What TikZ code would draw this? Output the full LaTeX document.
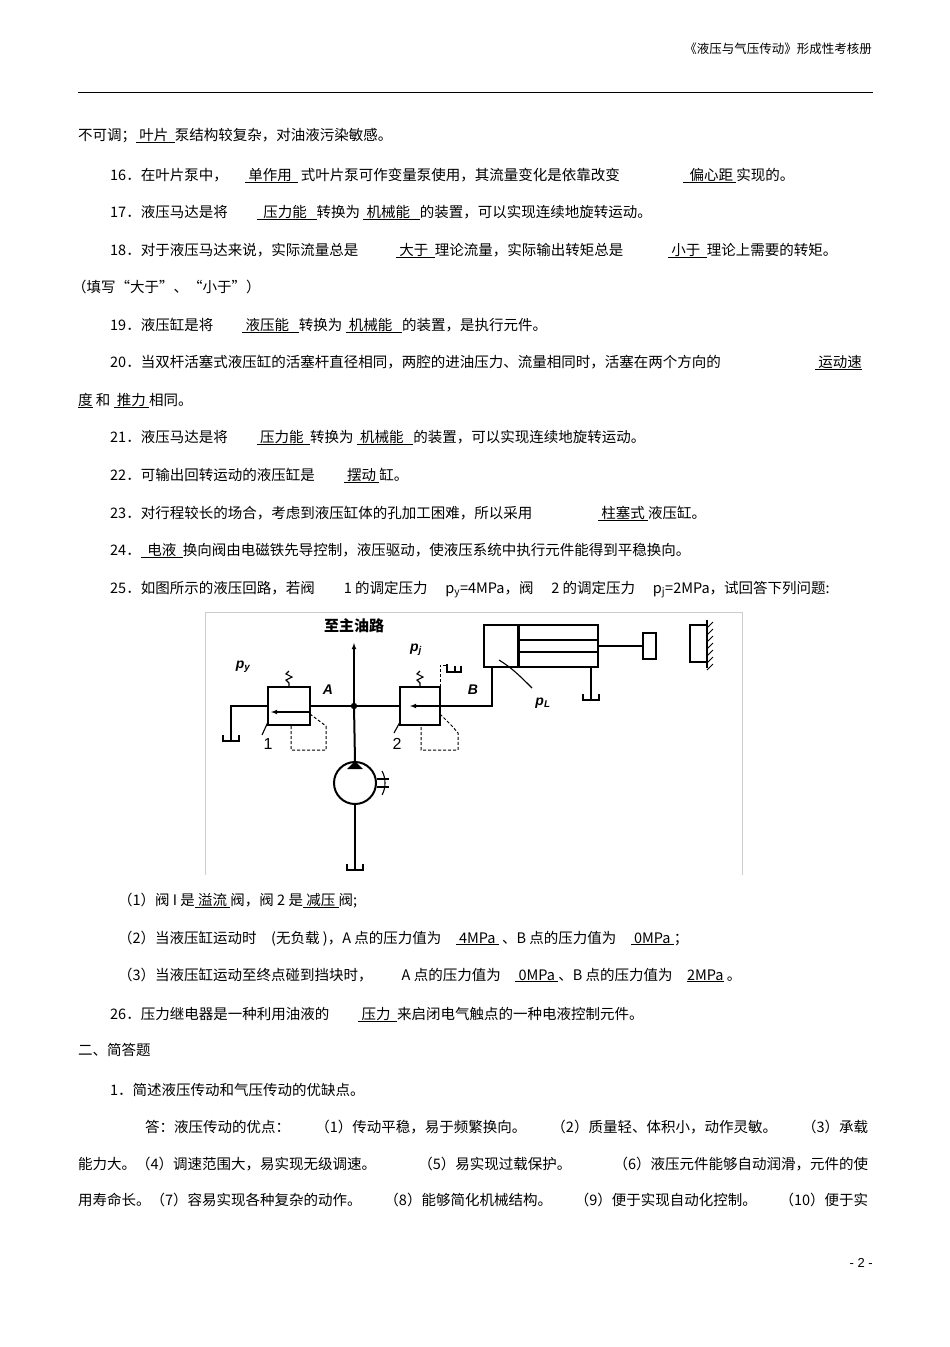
\documentclass[tikz,border=0pt]{standalone}
\usepackage{fontspec}
\setmainfont{Liberation Sans}
\newfontfamily\cjk{Noto Sans CJK SC}
\usetikzlibrary{patterns}
\newcommand\U[1]{\underline{#1}}
\begin{document}
\begin{tikzpicture}[x=1pt,y=-1pt,
 tx/.style={anchor=base west,inner sep=0pt,font=\cjk\fontsize{14.5}{16}\selectfont},
 fl/.style={font=\itshape\bfseries\fontsize{14}{15}\selectfont,inner sep=0pt},
 ln/.style={line width=1.1pt},
 th/.style={line width=2pt},
 dsh/.style={line width=1pt,dash pattern=on 3pt off 2pt}]
\useasboundingbox (0,0) rectangle (950,1347);
\fill[white] (0,0) rectangle (950,1347);
% header
\node[anchor=base east,inner sep=0pt,font=\cjk\fontsize{12.5}{14}\selectfont] (hd) at (872,53) {《液压与气压传动》形成性考核册};
\coordinate (r1) at (78,92); \coordinate (r2) at (873,92);
\draw[line width=0.8pt] (r1) -- (r2);
% text
\node[tx] (t1) at (78,140) {不可调；\U{\ 叶片\ \ }泵结构较复杂，对油液污染敏感。};
\node[tx] (t16a) at (110,180) {16．在叶片泵中，};
\node[tx] (t16b) at (245,180) {\U{\ 单作用\ \ }\,式叶片泵可作变量泵使用，其流量变化是依靠改变};
\node[tx] (t16c) at (683,180) {\U{\ \ 偏心距\ }实现的。};
\node[tx] (t17) at (110,217) {17．液压马达是将\qquad\U{\ \ 压力能\ \ \ }转换为\ \U{\ 机械能\ \ \ }的装置，可以实现连续地旋转运动。};
\node[tx] (t18a) at (110,255) {18．对于液压马达来说，实际流量总是};
\node[tx] (t18b) at (396,255) {\U{\ 大于\ \ }理论流量，实际输出转矩总是};
\node[tx] (t18c) at (668,255) {\U{\ 小于\ \ }理论上需要的转矩。};
\node[tx] (t18d) at (72,292) {（填写“大于”、“小于”）};
\node[tx] (t19) at (110,330) {19．液压缸是将\qquad\U{\ 液压能\ \ \ }转换为\ \U{\ 机械能\ \ \ }的装置，是执行元件。};
\node[tx] (t20a) at (110,367) {20．当双杆活塞式液压缸的活塞杆直径相同，两腔的进油压力、流量相同时，活塞在两个方向的};
\node[tx] (t20b) at (815,367) {\U{\ 运动速}};
\node[tx] (t20c) at (78,405) {\U{度}\ 和\ \U{\ 推力\ }相同。};
\node[tx] (t21) at (110,442) {21．液压马达是将\qquad\U{\ 压力能\ \ }转换为\ \U{\ 机械能\ \ \ }的装置，可以实现连续地旋转运动。};
\node[tx] (t22) at (110,480) {22．可输出回转运动的液压缸是\qquad\U{\ 摆动\ }缸。};
\node[tx] (t23a) at (110,518) {23．对行程较长的场合，考虑到液压缸体的孔加工困难，所以采用};
\node[tx] (t23b) at (598,518) {\U{\ 柱塞式\ }液压缸。};
\node[tx] (t24) at (110,555) {24．\U{\ \ 电液\ \ }换向阀由电磁铁先导控制，液压驱动，使液压系统中执行元件能得到平稳换向。};
\node[tx] (t25) at (110,593) {25．如图所示的液压回路，若阀\qquad 1 的调定压力\quad\ p\textsubscript{y}=4MPa，阀\quad\ 2 的调定压力\quad\ p\textsubscript{j}=2MPa，试回答下列问题:};
\node[tx] (q1) at (118,905) {（1）阀 I 是\U{\ 溢流\ }阀，阀 2 是\U{\ 减压\ }阀;};
\node[tx] (q2) at (118,943) {（2）当液压缸运动时\quad (无负载 )，A 点的压力值为\quad\U{\ 4MPa\ }\ 、B 点的压力值为\quad\U{\ 0MPa\ }；};
\node[tx] (q3) at (118,980) {（3）当液压缸运动至终点碰到挡块时，\qquad A 点的压力值为\quad\U{\ 0MPa\ }、B 点的压力值为\quad\U{2MPa}\ 。};
\node[tx] (t26) at (110,1019) {26．压力继电器是一种利用油液的\qquad\U{\ 压力\ \ }来启闭电气触点的一种电液控制元件。};
\node[tx] (s2) at (78,1055) {二、简答题};
\node[tx] (s21) at (110,1095) {1．简述液压传动和气压传动的优缺点。};
\node[tx] (a1) at (145,1132) {\makebox[723pt][s]{答：液压传动的优点： （1）传动平稳，易于频繁换向。 （2）质量轻、体积小，动作灵敏。 （3）承载}};
\node[tx] (a2) at (78,1169) {\makebox[790pt][s]{能力大。（4）调速范围大，易实现无级调速。 （5）易实现过载保护。 （6）液压元件能够自动润滑，元件的使}};
\node[tx] (a3) at (78,1205) {\makebox[790pt][s]{用寿命长。（7）容易实现各种复杂的动作。 （8）能够简化机械结构。 （9）便于实现自动化控制。 （10）便于实}};
\node[anchor=base east,inner sep=0pt,font=\fontsize{13}{14}\selectfont] (pg) at (873,1267) {- 2 -};
% figure frame
\draw[gray!40,line width=0.6pt] (205,612) -- (205,875) (742,612) -- (742,875) (205,612) -- (742,612);
% figure
\node[font=\cjk\bfseries\fontsize{15}{16}\selectfont,inner sep=0pt] (zz) at (354,626) {至主油路};
\coordinate (J) at (354,706);
\coordinate (up) at (354,643);
\draw[ln,-latex] (J) -- (up);
\fill (J) circle (3.2pt);
% valve 1
\node[draw,th,minimum width=42pt,minimum height=38pt,inner sep=0pt] (v1) at (289,706) {};
\draw[ln,-latex] (v1.east|-0,712) -- (271,712);
\draw[ln] (v1.north) -- ++(0,-3) -- ++(-3,-3) -- ++(6,-3) -- ++(-6,-3) -- ++(3,-3);
\coordinate (L1) at (231,706);
\coordinate (T1) at (231,741);
\draw[ln] (v1.west) -- (L1) -- (T1);
\draw[th] (223,735) -- (223,741) -- (239,741) -- (239,735);
\draw[ln] (v1.east) -- (J);
\draw[dsh] (310,714) -- (326,726) -- (326,750) -- (291,750) -- (291,725);
\draw[ln] (268,722) -- (262,735);
\node[font=\fontsize{16}{16}\selectfont,inner sep=0pt] (n1) at (268,744) {1};
\node[fl] (py) at (243,667) {p\textsubscript{y}};
\node[fl] (lA) at (328,690) {A};
% valve 2
\node[draw,th,minimum width=40pt,minimum height=38pt,inner sep=0pt] (v2) at (420,706) {};
\draw[ln] (J) -- (v2.west);
\draw[ln,-latex] (v2.east) -- (410,706);
\draw[ln] (v2.north) -- ++(0,-3) -- ++(-3,-3) -- ++(6,-3) -- ++(-6,-3) -- ++(3,-3);
\draw[dsh] (440,687) -- (440,665) -- (447,665);
\draw[th] (447,664) -- (447,672) -- (461,672) -- (461,666);
\draw[ln] (455,672) -- (455,666);
\draw[dsh] (440,714) -- (452,726) -- (458,733) -- (458,750) -- (421,750) -- (421,725);
\draw[ln] (400,722) -- (394,733);
\node[font=\fontsize{16}{16}\selectfont,inner sep=0pt] (n2) at (397,744) {2};
\node[fl] (pj) at (416,650) {p\textsubscript{j}};
\node[fl] (lB) at (473,690) {B};
% cylinder
\node[draw,th,minimum width=114pt,minimum height=42pt,inner sep=0pt] (cy) at (541,646) {};
\coordinate (C1) at (492,706);
\draw[ln] (v2.east) -- (C1) -- (C1|-cy.south);
\draw[line width=3pt] (518,626) -- (518,666);
\draw[ln] (519,640) -- (598,640) (519,652) -- (598,652);
\draw[ln] (598,646) -- (642,646);
\node[draw,th,minimum width=13pt,minimum height=26pt,inner sep=0pt] (rod) at (649,646) {};
\draw[ln] (591,667) -- (591,700);
\draw[th] (583,694) -- (583,700) -- (599,700) -- (599,694);
\draw[ln] (499,660) .. controls (512,668) and (520,676) .. (532,688);
\node[fl] (pL) at (543,703) {p\textsubscript{L}};
% stop
\draw[th] (707,625) -- (690,625) -- (690,662) -- (707,662);
\draw[ln] (707,620) -- (707,668);
\foreach \yy in {622,629,...,664} \draw[line width=0.8pt] (707,\yy+6) -- (713,\yy);
% pump
\node[draw,th,circle,minimum size=42pt,inner sep=0pt] (pu) at (355,783) {};
\fill (pu.north) ++(-8,8) -- ++(16,0) -- ++(-8,-8) -- cycle;
\draw[th] (J) -- (pu.north);
\draw[ln] (pu.east) ++(0,-4) -- ++(12,0) (pu.east) ++(0,4) -- ++(12,0);
\draw[ln] (382,771) .. controls (386,778) and (386,788) .. (382,795);
\coordinate (T0) at (355,870);
\draw[ln] (pu.south) -- (T0);
\draw[th] (347,864) -- (347,870) -- (363,870) -- (363,864);
\end{tikzpicture}
\end{document}
